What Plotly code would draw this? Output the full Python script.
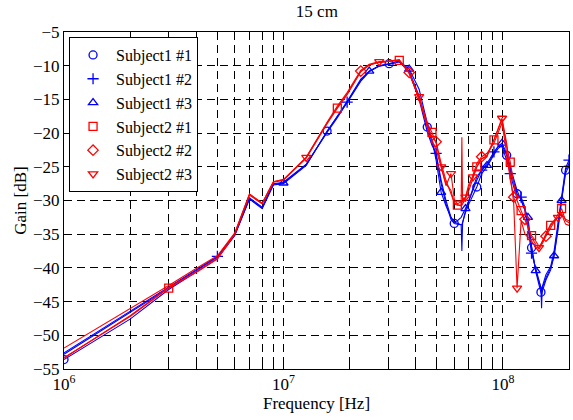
import plotly.graph_objects as go
import numpy as np

# Frequencies in MHz
freq_mhz = [1, 2, 3, 4, 5, 6, 7, 8, 9, 10, 12.7, 15.8, 17.6, 19.5, 22.5, 24.6, 27.3, 30.3, 33.7, 37.4,
            41.5, 45.2, 47.5, 49.6, 52.3, 55, 58, 60, 62, 64.5, 65, 65.5, 67.5, 70, 73, 76, 80, 84.6, 91, 95,
            99, 104, 108, 112, 116, 121, 126, 130, 135, 141, 146, 149, 150, 151, 157, 165, 171, 178, 185, 193, 200]

s1_1 = [-53.6, -47.6, -43.2, -40.6, -38.6, -35.2, -29.8, -31.2, -27.7, -27.5, -24.8, -19.7, -17.6, -15.5, -12.3, -10.9, -10.0, -9.7, -9.4, -10.8,
        -14.5, -19.1, -21.5, -23.3, -27.5, -30.5, -32.8, -33.4, -33.5, -33.5, -33.6, -33.2, -31.8, -30.5, -29.2, -28.0, -26.0, -25.0, -23.2, -22.3,
        -21.8, -23.3, -25.5, -27.5, -29.0, -29.8, -31.5, -33.5, -37.0, -40.5, -42.5, -43.6, -44.0, -43.5, -41.8, -40.3, -38.2, -34.0, -30.2, -25.5, -24.5]
s1_2 = [-52.6, -46.4, -42.8, -40.3, -38.3, -35.0, -29.6, -31.0, -27.5, -27.3, -24.6, -19.9, -17.7, -15.4, -12.2, -10.8, -10.0, -9.8, -9.4, -11.0,
        -15.0, -19.8, -21.8, -23.0, -27.0, -30.0, -32.5, -33.2, -33.4, -33.6, -37.5, -33.4, -31.5, -30.0, -28.5, -26.5, -25.5, -24.5, -22.8, -22.0,
        -22.0, -24.0, -26.0, -28.0, -29.3, -29.5, -31.0, -34.0, -37.8, -40.0, -42.0, -43.0, -46.0, -42.8, -41.0, -39.8, -37.5, -33.5, -29.5, -25.2, -24.0]
s1_3 = [-52.8, -46.6, -42.9, -40.4, -38.4, -35.1, -29.7, -31.1, -27.6, -27.4, -24.7, -19.8, -17.5, -15.3, -12.0, -10.8, -10.1, -9.7, -9.3, -10.5,
        -13.5, -18.5, -21.0, -24.0, -28.8, -30.8, -32.5, -33.2, -33.0, -32.5, -32.3, -32.0, -31.2, -30.0, -28.5, -27.0, -25.5, -24.8, -23.0, -22.0,
        -21.5, -23.0, -25.0, -27.0, -28.5, -30.0, -31.5, -32.5, -37.0, -40.4, -42.0, -43.0, -43.2, -43.0, -41.5, -40.0, -38.2, -34.5, -30.0, -26.0, -24.8]
s2_1 = [-53.3, -47.2, -43.0, -40.7, -38.7, -35.0, -29.2, -30.5, -27.3, -27.0, -23.7, -18.6, -16.3, -14.3, -10.9, -9.9, -9.5, -9.4, -9.2, -11.0,
        -14.8, -18.5, -19.9, -21.5, -25.0, -27.5, -28.5, -30.5, -30.7, -30.7, -30.7, -30.5, -29.8, -28.5, -26.8, -25.0, -23.8, -23.3, -21.0, -19.5,
        -18.0, -22.0, -24.3, -27.5, -30.0, -31.5, -32.8, -34.0, -35.2, -36.0, -36.8, -36.5, -36.3, -36.2, -35.0, -33.7, -33.0, -32.0, -31.2, -33.0, -33.3]
s2_2 = [-53.4, -47.1, -42.9, -40.6, -38.6, -34.9, -29.1, -30.4, -27.2, -26.9, -23.6, -18.5, -16.2, -14.2, -10.8, -9.9, -9.5, -9.4, -9.2, -11.0,
        -15.0, -19.0, -20.5, -21.3, -24.5, -27.0, -29.0, -30.3, -30.6, -30.8, -20.6, -30.3, -29.5, -28.0, -26.0, -24.5, -23.5, -23.0, -21.5, -20.0,
        -18.5, -23.0, -27.0, -29.5, -31.0, -32.0, -32.8, -33.8, -35.5, -36.5, -37.2, -36.8, -36.5, -36.4, -35.3, -34.0, -33.2, -32.5, -32.0, -32.8, -33.0]
s2_3 = [-51.9, -46.1, -42.6, -40.1, -38.2, -34.8, -29.0, -30.4, -27.2, -26.9, -23.6, -18.4, -16.0, -14.0, -10.7, -9.8, -9.4, -9.3, -9.1, -11.2,
        -14.6, -18.8, -21.0, -22.5, -25.0, -27.8, -26.0, -29.8, -30.5, -30.2, -30.0, -30.0, -29.5, -27.5, -26.5, -25.0, -23.8, -23.5, -21.0, -19.5,
        -17.8, -21.5, -26.0, -30.5, -43.0, -33.0, -35.0, -35.5, -36.0, -37.0, -37.0, -36.5, -36.3, -36.2, -35.0, -33.5, -33.0, -32.5, -32.0, -33.5, -33.7]

# indices of the points that carry a marker
mk_s1_1 = [0, 11, 17, 21, 27, 35, 41, 44, 48, 51, 59]
mk_s1_2 = [4, 13, 23, 36, 38, 42, 45, 48, 60]
mk_s1_3 = [9, 15, 19, 24, 32, 37, 40, 47, 49, 56, 58]
mk_s2_1 = [2, 12, 18, 22, 28, 35, 38, 42, 45, 48, 55, 58]
mk_s2_2 = [14, 19, 23, 36, 43, 46, 54]
mk_s2_3 = [10, 16, 20, 24, 26, 32, 34, 40, 44, 50, 57]

names = ["Subject1 #1", "Subject1 #2", "Subject1 #3", "Subject2 #1", "Subject2 #2", "Subject2 #3"]
series = [s1_1, s1_2, s1_3, s2_1, s2_2, s2_3]
marks = [mk_s1_1, mk_s1_2, mk_s1_3, mk_s2_1, mk_s2_2, mk_s2_3]
symbols = ["circle-open", "cross-thin-open", "triangle-up-open", "square-open", "diamond-open", "triangle-down-open"]
colors = ["#0000FF"] * 3 + ["#FF0000"] * 3

freq = np.array(freq_mhz) * 1e6

fig = go.Figure()
for i, (nm, s, mk, sym, col) in enumerate(zip(names, series, marks, symbols, colors)):
    fig.add_trace(go.Scatter(x=freq, y=s, mode="lines", line=dict(color=col, width=1.1),
                             showlegend=False, hoverinfo="skip"))
    fig.add_trace(go.Scatter(x=freq[mk], y=np.array(s)[mk], mode="markers", name=nm,
                             legendgroup=nm,
                             marker=dict(symbol=sym, color=col, size=8,
                                         line=dict(color=col, width=1.3))))

# log grid positions (all 1..9 multiples per decade)
tickvals = []
ticktext = []
for d in [6, 7, 8]:
    for m in range(1, 10):
        v = m * 10 ** d
        if v <= 2e8:
            tickvals.append(v)
            ticktext.append("10<sup>%d</sup>" % d if m == 1 else " ")

font = "Liberation Serif"
fig.update_layout(
    width=573, height=420,
    margin=dict(l=64, r=4, t=32, b=51),
    paper_bgcolor="white", plot_bgcolor="white",
    font=dict(family=font, size=17, color="black"),
    title=dict(text="15 cm", x=0.553, xanchor="center", y=1 - 5 / 420, yanchor="top",
               font=dict(family=font, size=17, color="black")),
    legend=dict(x=0.01, y=0.985, xanchor="left", yanchor="top",
                bgcolor="white", bordercolor="black", borderwidth=1,
                font=dict(family=font, size=16, color="black"),
                tracegroupgap=0, itemwidth=36),
    showlegend=True,
)
fig.update_xaxes(type="log", range=[6, np.log10(2e8)], automargin=False,
                 tickvals=tickvals, ticktext=ticktext, tickangle=0,
                 ticks="inside", ticklen=5, tickcolor="black",
                 showgrid=True, gridcolor="black", griddash="8px,5px", gridwidth=0.8,
                 showline=True, linecolor="black", linewidth=1, mirror="ticks",
                 zeroline=False,
                 title=dict(text="Frequency [Hz]", standoff=2, font=dict(family=font, size=17)),
                 tickfont=dict(family=font, size=17))
fig.update_yaxes(range=[-55, -5], dtick=5, tick0=-5, automargin=False,
                 ticks="inside", ticklen=5, tickcolor="black",
                 showgrid=True, gridcolor="black", griddash="8px,5px", gridwidth=0.8,
                 showline=True, linecolor="black", linewidth=1, mirror="ticks",
                 zeroline=False,
                 title=dict(text="Gain [dB]", standoff=2, font=dict(family=font, size=17)),
                 tickfont=dict(family=font, size=17))

fig.write_html("out.html", config={"displayModeBar": False},
               post_script="document.body.style.margin='0px';")
